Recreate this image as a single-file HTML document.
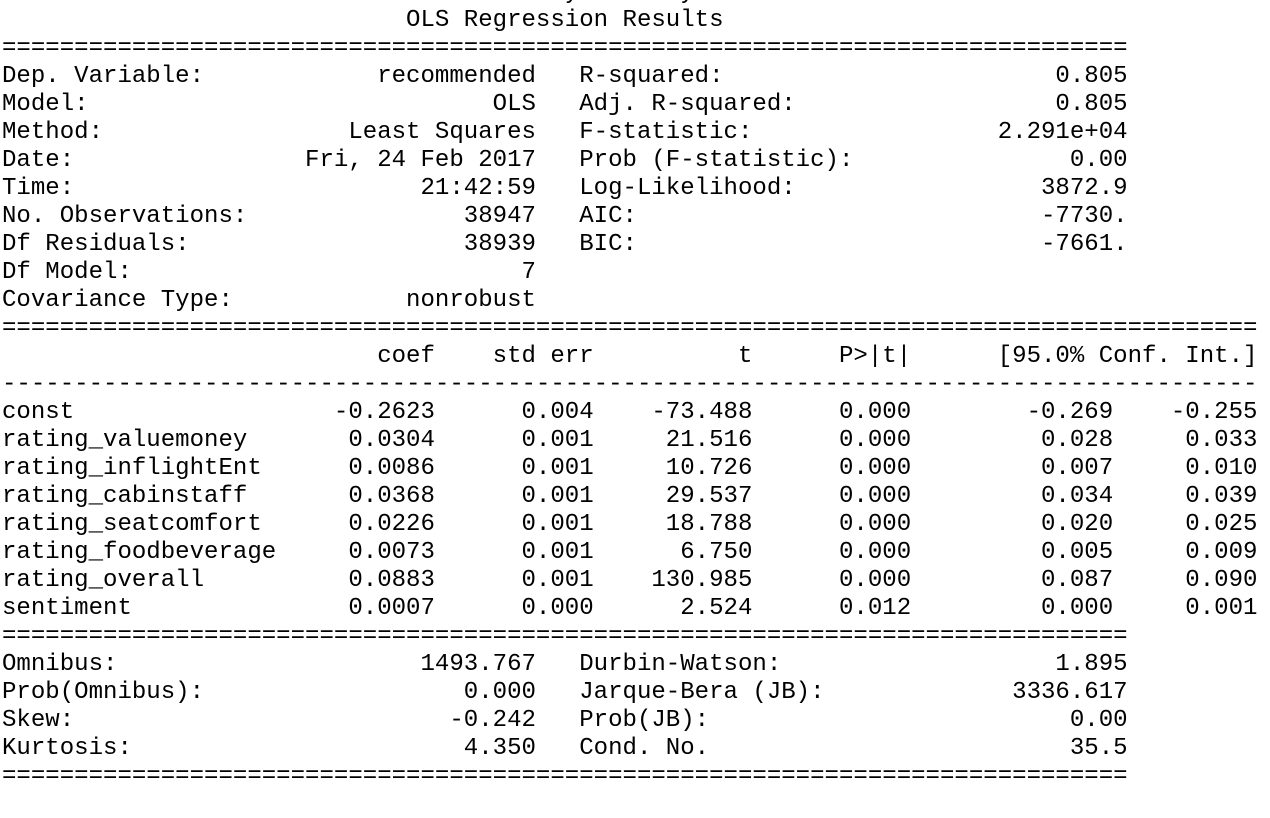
<!DOCTYPE html>
<html><head><meta charset="utf-8">
<style>
html,body{margin:0;padding:0;background:#fff;width:1270px;height:818px;overflow:hidden;}
pre{position:absolute;left:2px;top:-21px;margin:0;font-family:"Liberation Mono",monospace;font-size:24.05px;line-height:28px;color:#000;white-space:pre;}
</style></head>
<body>
<pre id="out"></pre>
<script>
function row(l,v,l2,v2){return l.padEnd(37-v.length)+v+'   '+(l2.padEnd(38-v2.length)+v2);}
function c(a,w){return a.padStart(w);}
function crow(n,a,b,t,p,lo,hi){return n.padEnd(20)+c(a,10)+c(b,11)+c(t,11)+c(p,11)+c(lo,14)+c(hi,10);}
var L=[];
L.push("       <class 'statsmodels.iolib.summary.Summary'>");
L.push("                            OLS Regression Results");
L.push("=".repeat(78));
L.push(row("Dep. Variable:","recommended","R-squared:","0.805"));
L.push(row("Model:","OLS","Adj. R-squared:","0.805"));
L.push(row("Method:","Least Squares","F-statistic:","2.291e+04"));
L.push(row("Date:","Fri, 24 Feb 2017","Prob (F-statistic):","0.00"));
L.push(row("Time:","21:42:59","Log-Likelihood:","3872.9"));
L.push(row("No. Observations:","38947","AIC:","-7730."));
L.push(row("Df Residuals:","38939","BIC:","-7661."));
L.push(row("Df Model:","7","",""));
L.push(row("Covariance Type:","nonrobust","",""));
L.push("=".repeat(87));
L.push("".padEnd(20)+c("coef",10)+c("std err",11)+c("t",11)+c("P>|t|",11)+c("[95.0% Conf. Int.]",24));
L.push("-".repeat(87));
L.push(crow("const","-0.2623","0.004","-73.488","0.000","-0.269","-0.255"));
L.push(crow("rating_valuemoney","0.0304","0.001","21.516","0.000","0.028","0.033"));
L.push(crow("rating_inflightEnt","0.0086","0.001","10.726","0.000","0.007","0.010"));
L.push(crow("rating_cabinstaff","0.0368","0.001","29.537","0.000","0.034","0.039"));
L.push(crow("rating_seatcomfort","0.0226","0.001","18.788","0.000","0.020","0.025"));
L.push(crow("rating_foodbeverage","0.0073","0.001","6.750","0.000","0.005","0.009"));
L.push(crow("rating_overall","0.0883","0.001","130.985","0.000","0.087","0.090"));
L.push(crow("sentiment","0.0007","0.000","2.524","0.012","0.000","0.001"));
L.push("=".repeat(78));
L.push(row("Omnibus:","1493.767","Durbin-Watson:","1.895"));
L.push(row("Prob(Omnibus):","0.000","Jarque-Bera (JB):","3336.617"));
L.push(row("Skew:","-0.242","Prob(JB):","0.00"));
L.push(row("Kurtosis:","4.350","Cond. No.","35.5"));
L.push("=".repeat(78));
document.getElementById('out').textContent=L.join("\n");
</script>
</body></html>
